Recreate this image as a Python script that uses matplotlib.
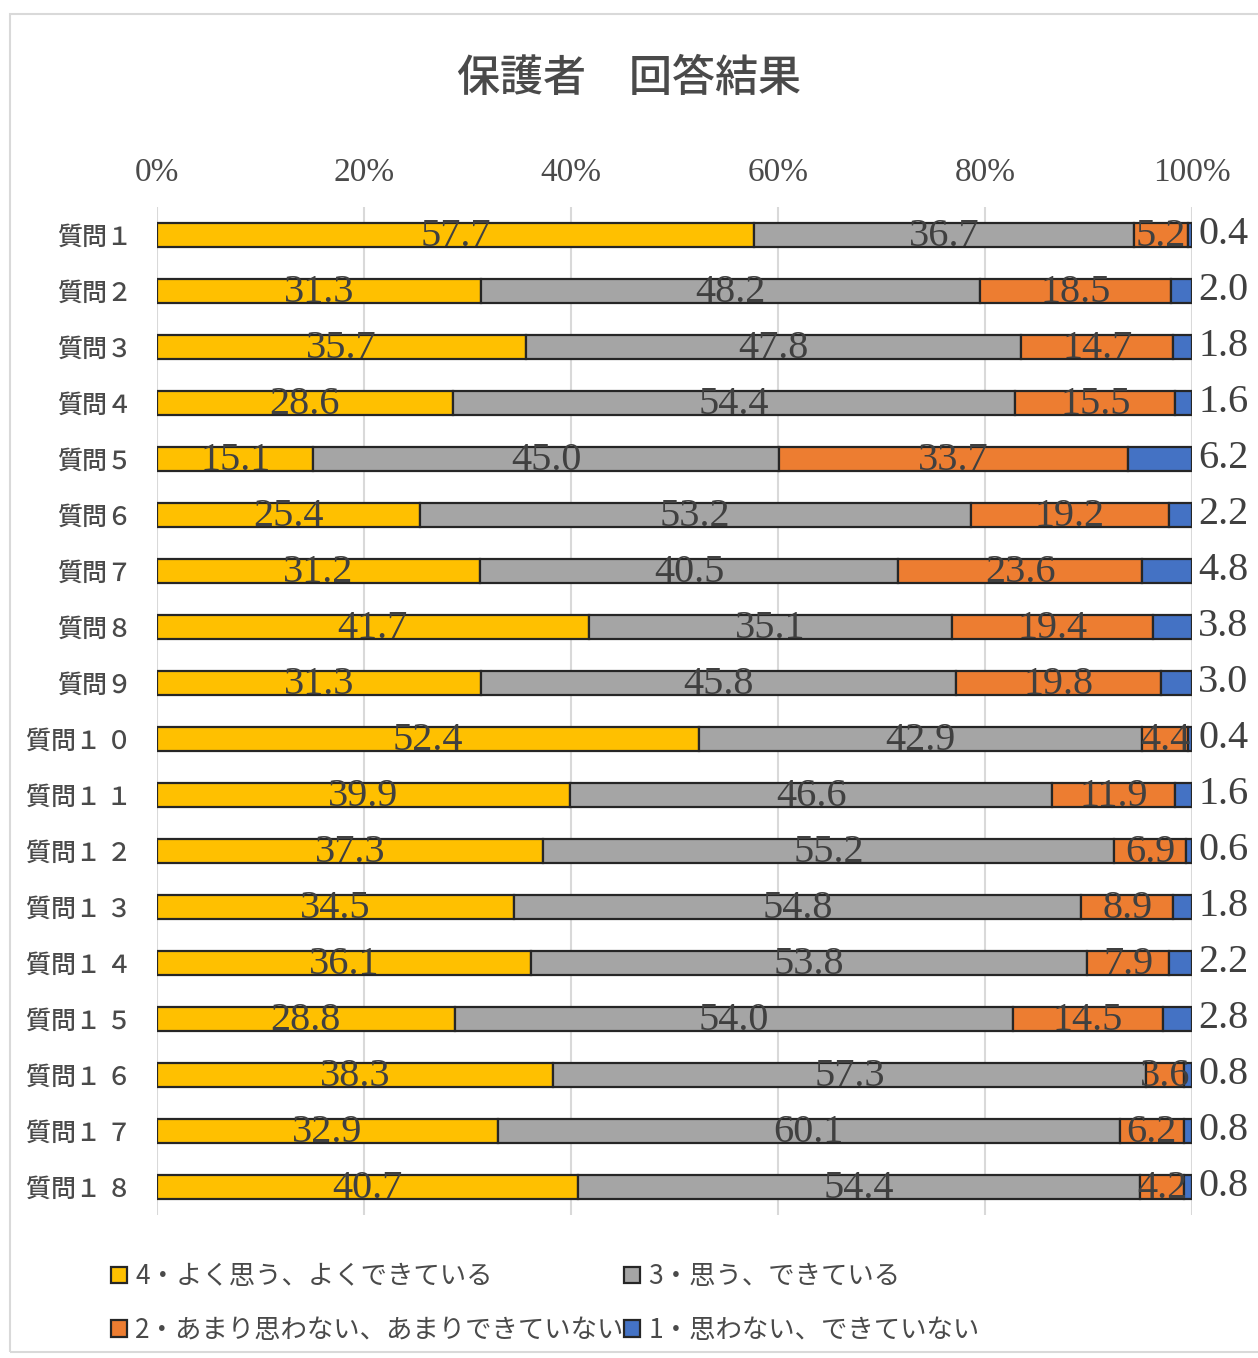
import matplotlib
matplotlib.use("Agg")
import matplotlib.pyplot as plt
import numpy as np
from matplotlib.patches import Rectangle

plt.rcParams['font.family'] = ['Noto Sans CJK JP', 'DejaVu Sans']

questions = ["質問１", "質問２", "質問３", "質問４", "質問５", "質問６", "質問７", "質問８", "質問９",
             "質問１ ０", "質問１ １", "質問１ ２", "質問１ ３", "質問１ ４", "質問１ ５", "質問１ ６",
             "質問１ ７", "質問１ ８"]
s4 = [57.7, 31.3, 35.7, 28.6, 15.1, 25.4, 31.2, 41.7, 31.3, 52.4, 39.9, 37.3, 34.5, 36.1, 28.8, 38.3, 32.9, 40.7]
s3 = [36.7, 48.2, 47.8, 54.4, 45.0, 53.2, 40.5, 35.1, 45.8, 42.9, 46.6, 55.2, 54.8, 53.8, 54.0, 57.3, 60.1, 54.4]
s2 = [5.2, 18.5, 14.7, 15.5, 33.7, 19.2, 23.6, 19.4, 19.8, 4.4, 11.9, 6.9, 8.9, 7.9, 14.5, 3.6, 6.2, 4.2]
s1 = [0.4, 2.0, 1.8, 1.6, 6.2, 2.2, 4.8, 3.8, 3.0, 0.4, 1.6, 0.6, 1.8, 2.2, 2.8, 0.8, 0.8, 0.8]
series_names = ["4・よく思う、よくできている", "3・思う、できている",
                "2・あまり思わない、あまりできていない", "1・思わない、できていない"]
colors = ["#FFC000", "#A5A5A5", "#ED7D31", "#4472C4"]
xticks = [0, 20, 40, 60, 80, 100]
xtick_labels = ["0%", "20%", "40%", "60%", "80%", "100%"]
title = "保護者　回答結果"

W, H = 1258, 1358
fig = plt.figure(figsize=(W / 100, H / 100), dpi=100)
fig.patches.append(Rectangle((10 / W, 1 - 1352 / H), 1.0, (1352 - 14) / H,
                             transform=fig.transFigure, fill=False,
                             edgecolor="#D9D9D9", linewidth=1.5))

ax = fig.add_axes([157 / W, 1 - 1215 / H, (1192 - 157) / W, (1215 - 207) / H])

data = [s4, s3, s2, s1]
y = np.arange(len(questions))
totals = np.array([sum(v) for v in zip(*data)])
left = np.zeros(len(questions))
handles = []
for i, (vals, c, name) in enumerate(zip(data, colors, series_names)):
    vals = np.array(vals)
    pct = vals / totals * 100
    b = ax.barh(y, pct, left=left, height=0.42, color=c, edgecolor="#262626",
                linewidth=1.6, label=name, zorder=3)
    handles.append(b)
    for j in range(len(questions)):
        if i < 3:
            ax.text(left[j] + pct[j] / 2, y[j] + 0.03, f"{vals[j]:.1f}", ha="center", va="center",
                    fontsize=29, color="#404040", family=["Liberation Serif"], zorder=4)
        else:
            ax.text(100.6, y[j], f"{vals[j]:.1f}", ha="left", va="center",
                    fontsize=29, color="#404040", family=["Liberation Serif"], zorder=4,
                    clip_on=False)
    left += pct

ax.set_xlim(0, 100)
ax.set_ylim(len(questions) - 0.5, -0.5)
ax.set_yticks(y)
ax.set_yticklabels(questions, fontsize=18, color="#4a4a4a", fontweight="medium")
ax.set_xticks(xticks)
ax.set_xticklabels(xtick_labels, fontsize=24, color="#4a4a4a", family=["Liberation Serif"])
ax.xaxis.tick_top()
ax.tick_params(axis="both", length=0)
ax.tick_params(axis="x", pad=14)
ax.tick_params(axis="y", pad=18)
for sp in ax.spines.values():
    sp.set_visible(False)
ax.grid(axis="x", color="#D9D9D9", linewidth=1.5, zorder=0)

fig.text(0.5, 1 - 78 / H, title, ha="center", va="center", fontsize=31, color="#4a4a4a",
         fontweight="medium")

order = [0, 2, 1, 3]
leg = fig.legend([handles[k] for k in order], [series_names[k] for k in order],
                 loc="upper left", bbox_to_anchor=(106 / W, 1 - 1258 / H),
                 ncol=2, frameon=False, fontsize=19, handlelength=0.6, handleheight=0.6,
                 columnspacing=0.0, handletextpad=0.3, labelspacing=1.0,
                 borderaxespad=0, borderpad=0.2)
for t in leg.get_texts():
    t.set_color("#4a4a4a")

fig.savefig("out.png", dpi=100)
